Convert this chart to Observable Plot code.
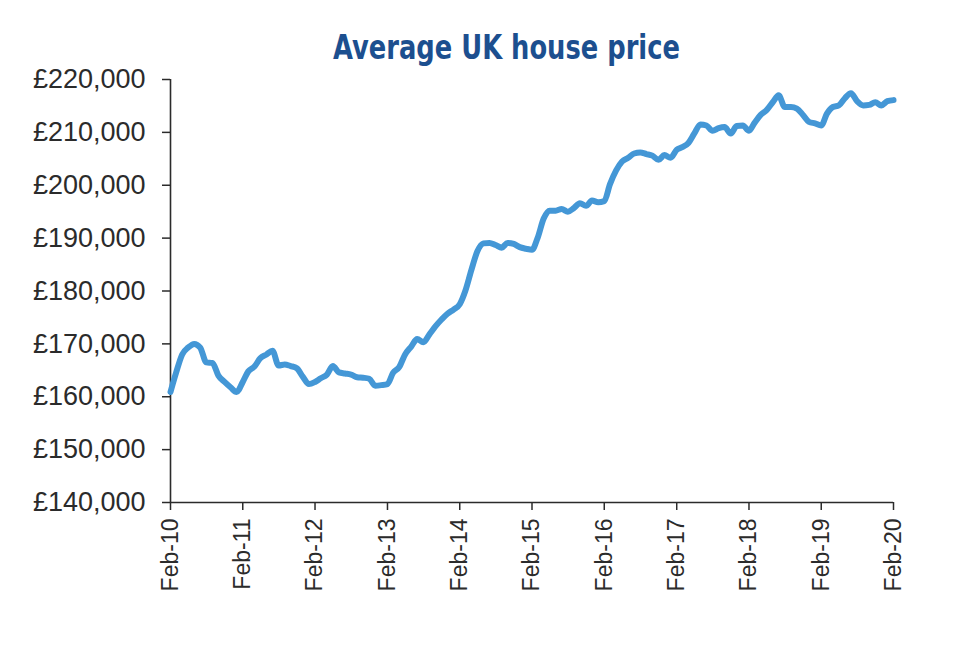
<!DOCTYPE html>
<html>
<head>
<meta charset="utf-8">
<script src="https://cdn.jsdelivr.net/npm/d3@7"></script>
<script src="https://cdn.jsdelivr.net/npm/@observablehq/plot@0.6"></script>
<style>
  html, body { margin: 0; padding: 0; background: #fff; }
  #wrap { position: relative; width: 960px; height: 660px; }
  #title {
    position: absolute; left: 0; top: 30px; width: 1013px; text-align: center;
    font-family: "Liberation Sans Narrow", "DejaVu Sans Condensed", "Liberation Sans", sans-serif;
    font-weight: bold; font-size: 34px; color: #1c4f8f; line-height: 1;
    transform: scaleX(0.842); transform-origin: 506.5px 50%;
  }
</style>
</head>
<body>
<div id="wrap">
  <div id="title">Average UK house price</div>
  <div id="chart"></div>
</div>
<script>
// Monthly average UK house price, Feb 2010 .. Feb 2020 (121 months)
const startMonth = "2010-02";
const prices = [
  160900, 164500, 168000, 169300, 170000, 169300, 166500, 166400, 164000, 162800, 161800, 160900,
  162800, 164800, 165700, 167300, 168000, 168700, 165900, 166100, 165800, 165400, 163800, 162400,
  162800, 163500, 164200, 165800, 164600, 164400, 164200, 163700, 163600, 163400, 162100, 162200,
  162400, 164500, 165600, 168000, 169500, 170900, 170300, 171800, 173300, 174600, 175700, 176500,
  177500, 180000, 184000, 187500, 189000, 189100, 188700, 188200, 189100, 188900, 188300, 188000,
  187800, 190000, 193700, 195200, 195200, 195500, 195000, 195700, 196600, 196100, 197100, 196800,
  197000, 200200, 202800, 204500, 205200, 206000, 206200, 205900, 205600, 204800, 205700, 205200,
  206700, 207200, 208000, 209800, 211500, 211300, 210300, 210800, 211000, 209800, 211200, 211300,
  210300, 211800, 213300, 214200, 215700, 217000, 214800, 214800, 214500, 213300, 212000, 211700,
  211300, 213500, 214800, 215100, 216500, 217400, 215900, 215100, 215200, 215700, 215100, 215900,
  216100
];
const yTicks = [140000, 150000, 160000, 170000, 180000, 190000, 200000, 210000, 220000];
const xTickLabels = ["Feb-10","Feb-11","Feb-12","Feb-13","Feb-14","Feb-15","Feb-16","Feb-17","Feb-18","Feb-19","Feb-20"];

const t0 = new Date(startMonth + "-01T00:00:00Z");
const data = prices.map((v, i) => ({date: d3.utcMonth.offset(t0, i), price: v}));
const xTicks = xTickLabels.map((_, i) => d3.utcYear.offset(t0, i));
const tEnd = xTicks[xTicks.length - 1];

const axisColor = "#2b2b2b";

const chart = Plot.plot({
  width: 960,
  height: 660,
  marginLeft: 170,
  marginRight: 67,
  marginTop: 79,
  marginBottom: 158,
  style: {background: "transparent", color: axisColor, fontFamily: "'Liberation Sans', Arial, sans-serif", overflow: "visible"},
  x: {type: "utc", domain: [t0, tEnd]},
  y: {domain: [140000, 220000]},
  marks: [
    Plot.axisY({
      ticks: yTicks, tickSize: 8, tickPadding: 17,
      tickFormat: d => "£" + d3.format(",")(d),
      fontSize: 27, stroke: axisColor, strokeWidth: 1.5, label: null
    }),
    Plot.axisX({
      ticks: xTicks, tickSize: 8, tickPadding: 8, tickRotate: -90,
      tickFormat: (d) => xTickLabels[xTicks.findIndex(t => +t === +d)],
      fontSize: 23, stroke: axisColor, strokeWidth: 1.5, label: null
    }),
    Plot.ruleX([t0], {y1: 140000, y2: 220000, stroke: axisColor, strokeWidth: 1.6}),
    Plot.ruleY([140000], {x1: t0, x2: tEnd, stroke: axisColor, strokeWidth: 1.6}),
    Plot.line(data, {x: "date", y: "price", stroke: "#4497d6", strokeWidth: 6, strokeLinejoin: "round", strokeLinecap: "round", curve: "monotone-x"})
  ]
});
document.getElementById("chart").appendChild(chart);
</script>
</body>
</html>
